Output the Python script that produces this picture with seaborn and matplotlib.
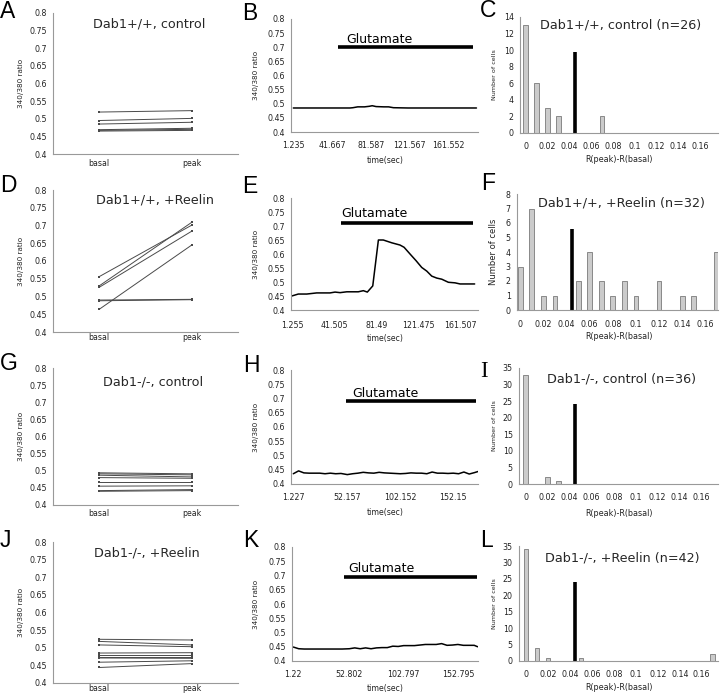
import matplotlib
matplotlib.use('Agg')
import matplotlib.pyplot as plt
from matplotlib.ticker import MultipleLocator
import seaborn as sns
import pandas as pd

sns.set_style('white')
plt.rcParams['font.family'] = ['DejaVu Sans', 'Liberation Sans']

# ---------------- data ----------------
CONDITIONS = ['basal', 'peak']
RATIO_TICKS = [0.4, 0.45, 0.5, 0.55, 0.6, 0.65, 0.7, 0.75, 0.8]

A_basal = [0.519, 0.495, 0.485, 0.469, 0.467, 0.465]
A_peak = [0.523, 0.501, 0.490, 0.473, 0.470, 0.467]
D_basal = [0.556, 0.530, 0.526, 0.490, 0.488, 0.464]
D_peak = [0.701, 0.709, 0.684, 0.492, 0.491, 0.645]
G_basal = [0.494, 0.491, 0.487, 0.480, 0.466, 0.455, 0.442, 0.440]
G_peak = [0.491, 0.488, 0.482, 0.478, 0.466, 0.456, 0.445, 0.442]
J_basal = [0.524, 0.518, 0.508, 0.485, 0.480, 0.475, 0.471, 0.459, 0.444]
J_peak = [0.522, 0.508, 0.503, 0.486, 0.480, 0.475, 0.470, 0.463, 0.455]

B_time = [1.235, 10.0, 20.0, 30.0, 40.0, 50.0, 60.0, 63.0, 68.0, 75.0, 80.0, 83.0,
          87.0, 95.0, 100.0, 105.0, 120.0, 140.0, 160.0, 180.0, 191.0]
B_ratio = [0.485, 0.485, 0.485, 0.485, 0.485, 0.485, 0.485, 0.486, 0.489, 0.489, 0.491, 0.493,
           0.490, 0.489, 0.489, 0.486, 0.485, 0.485, 0.485, 0.485, 0.485]
B_ticks = [1.235, 41.667, 81.587, 121.567, 161.552]

E_time = [0.3, 6.6, 14.7, 24.2, 37.0, 41.8, 46.6, 53.0, 64.0, 68.9, 72.7, 77.9, 83.3, 88.0,
          96.1, 104.0, 107.9, 113.6, 119.4, 124.8, 129.6, 134.4, 139.2, 144.0, 150.3,
          156.7, 161.5, 175.5]
E_ratio = [0.450, 0.457, 0.457, 0.461, 0.461, 0.464, 0.462, 0.465, 0.465, 0.469, 0.464, 0.486,
           0.650, 0.650, 0.640, 0.632, 0.624, 0.600, 0.576, 0.552, 0.539, 0.521, 0.514,
           0.510, 0.499, 0.497, 0.493, 0.493]
E_ticks = [1.255, 41.505, 81.49, 121.475, 161.507]

H_time = [1.227, 6.2, 11.2, 16.2, 21.2, 26.2, 31.2, 36.2, 41.2, 46.2, 52.157, 57.2, 62.2,
          67.2, 72.2, 77.2, 82.2, 87.2, 92.2, 97.2, 102.152, 107.2, 112.2, 117.2, 122.2,
          127.2, 132.2, 137.2, 142.2, 147.2, 152.15, 157.2, 162.2, 167.2, 172.2, 175.7]
H_ratio = [0.436, 0.446, 0.439, 0.438, 0.438, 0.438, 0.436, 0.438, 0.436, 0.437, 0.433, 0.436,
           0.438, 0.441, 0.439, 0.438, 0.441, 0.439, 0.438, 0.437, 0.436, 0.437, 0.439, 0.438,
           0.438, 0.436, 0.442, 0.438, 0.438, 0.437, 0.438, 0.436, 0.442, 0.435, 0.440, 0.444]
H_ticks = [1.227, 52.157, 102.152, 152.15]

K_time = [1.22, 6.2, 11.2, 16.2, 21.2, 26.2, 31.2, 36.2, 41.2, 46.2, 52.802, 57.8, 62.8,
          67.8, 72.8, 77.8, 82.8, 87.8, 92.8, 97.8, 102.797, 107.8, 112.8, 117.8, 122.8,
          127.8, 132.8, 137.8, 142.8, 147.8, 152.795, 157.8, 162.8, 167.8, 171.0]
K_ratio = [0.449, 0.443, 0.442, 0.442, 0.442, 0.442, 0.442, 0.442, 0.442, 0.442, 0.443, 0.446,
           0.443, 0.446, 0.443, 0.446, 0.447, 0.447, 0.452, 0.451, 0.454, 0.454, 0.454, 0.456,
           0.458, 0.458, 0.458, 0.461, 0.455, 0.456, 0.458, 0.455, 0.455, 0.455, 0.450]
K_ticks = [1.22, 52.802, 102.797, 152.795]

# glutamate application bar: start time, end time, ratio level
B_glu = [47.6, 187.4, 0.700]
E_glu = [47.2, 173.9, 0.711]
H_glu = [50.9, 173.6, 0.691]
K_glu = [47.9, 170.7, 0.696]

BINS = [0.0, 0.01, 0.02, 0.03, 0.04, 0.05, 0.06, 0.07, 0.08, 0.09, 0.10, 0.11, 0.12,
        0.13, 0.14, 0.15, 0.16, 0.17]
HIST_TICKS = [0.0, 0.02, 0.04, 0.06, 0.08, 0.10, 0.12, 0.14, 0.16]
HIST_TICKLABELS = ['0', '0.02', '0.04', '0.06', '0.08', '0.1', '0.12', '0.14', '0.16']
C_counts = [13, 6, 3, 2, 0, 0, 0, 2, 0, 0, 0, 0, 0, 0, 0, 0, 0, 0]
F_counts = [3, 7, 1, 1, 0, 2, 4, 2, 1, 2, 1, 0, 2, 0, 1, 1, 0, 4]
I_counts = [33, 0, 2, 1, 0, 0, 0, 0, 0, 0, 0, 0, 0, 0, 0, 0, 0, 0]
L_counts = [34, 4, 1, 0, 0, 1, 0, 0, 0, 0, 0, 0, 0, 0, 0, 0, 0, 2]
THRESHOLD = 0.045
C_thr_height, F_thr_height, I_thr_height, L_thr_height = 9.8, 5.6, 24, 24
C_yticks = [0, 2, 4, 6, 8, 10, 12, 14]
F_yticks = [0, 1, 2, 3, 4, 5, 6, 7, 8]
IL_yticks = [0, 5, 10, 15, 20, 25, 30, 35]

# ---------------- figure ----------------
W, H = 720, 693
fig = plt.figure(figsize=(W / 100, H / 100), dpi=100)

SPINE = '#999999'
TXT = '#222222'


def add_ax(l, t, r, b):
    return fig.add_axes([l / W, 1 - b / H, (r - l) / W, (b - t) / H])


def ftext(x, y, s, **kw):
    fig.text(x / W, 1 - y / H, s, **kw)


def style(ax):
    sns.despine(ax=ax)
    for s in ['left', 'bottom']:
        ax.spines[s].set_color(SPINE)
        ax.spines[s].set_linewidth(0.8)
    ax.tick_params(axis='both', colors=SPINE, labelcolor=TXT, labelsize=5.7, width=0.6)
    ax.tick_params(axis='y', direction='out', length=2, pad=2.5)
    ax.set_xlabel('')
    ax.set_ylabel('')


def paired(box, basal, peak, xpad):
    ax = add_ax(*box)
    n = len(basal)
    df = pd.DataFrame({'cell': list(range(n)) * 2,
                       'pos': [0] * n + [1] * n,
                       'ratio': basal + peak})
    sns.lineplot(data=df, x='pos', y='ratio', units='cell', estimator=None,
                 color='#4a4a4a', lw=0.7, marker='s', markersize=1.6,
                 markeredgewidth=0, ax=ax)
    ax.set_xlim(-0.5, 1.5)
    ax.set_xticks([0, 1])
    ax.set_xticklabels(CONDITIONS)
    ax.set_ylim(0.4, 0.8)
    ax.set_yticks(RATIO_TICKS)
    ax.set_yticklabels([f'{v:g}' for v in RATIO_TICKS])
    style(ax)
    ax.tick_params(axis='x', length=0, pad=xpad)
    return ax


def trace(box, t, v, ticks, xlim, glu, glu_text_xy, xpad):
    ax = add_ax(*box)
    sns.lineplot(x=t, y=v, color='black', lw=1.1, ax=ax)
    ax.plot([glu[0], glu[1]], [glu[2], glu[2]], color='black', lw=2.6,
            solid_capstyle='butt')
    ax.text(glu_text_xy[0], glu_text_xy[1], 'Glutamate', ha='center', va='center',
            fontsize=9, color='black')
    ax.set_xlim(*xlim)
    ax.set_xticks(ticks)
    ax.set_xticklabels([f'{x:g}' for x in ticks])
    ax.xaxis.set_minor_locator(MultipleLocator(5))
    ax.set_ylim(0.4, 0.8)
    ax.set_yticks(RATIO_TICKS)
    ax.set_yticklabels([f'{x:g}' for x in RATIO_TICKS])
    style(ax)
    ax.tick_params(axis='x', which='both', direction='in', length=2.2, pad=xpad)
    return ax


def hist(box, counts, xlim, yticks, thr_h, xpad):
    ax = add_ax(*box)
    df = pd.DataFrame({'bin': BINS, 'n': counts})
    sns.barplot(data=df, x='bin', y='n', native_scale=True, width=0.42,
                color='#cbcbcb', saturation=1, edgecolor='#7a7a7a', linewidth=0.6,
                errorbar=None, ax=ax)
    ax.plot([THRESHOLD, THRESHOLD], [0, thr_h], color='black', lw=2.6,
            solid_capstyle='butt')
    ax.set_xlim(*xlim)
    ax.set_xticks(HIST_TICKS)
    ax.set_xticklabels(HIST_TICKLABELS)
    ax.xaxis.set_minor_locator(MultipleLocator(0.01, offset=0.005))
    ax.set_ylim(0, yticks[-1])
    ax.set_yticks(yticks)
    ax.set_yticklabels([str(y) for y in yticks])
    style(ax)
    ax.tick_params(axis='x', which='major', length=0, pad=xpad)
    ax.tick_params(axis='x', which='minor', direction='in', length=2.2, width=0.6)
    return ax


# column 1: paired basal/peak plots
paired((53, 13, 238, 154), A_basal, A_peak, 3.6)
paired((53, 190, 238, 332), D_basal, D_peak, 0.5)
paired((53, 368, 238, 505), G_basal, G_peak, 2.8)
paired((53, 542, 238, 683), J_basal, J_peak, 0.8)

# column 2: traces
trace((291, 19, 478, 132), B_time, B_ratio, B_ticks, (-1.15, 192.6), B_glu, (90, 0.729), 6.8)
trace((291, 198, 478, 310), E_time, E_ratio, E_ticks, (-0.4, 178.7), E_glu, (79.8, 0.743), 7.6)
trace((291, 370, 478, 484), H_time, H_ratio, H_ticks, (-0.95, 175.5), H_glu, (88.2, 0.716), 6.2)
trace((292, 547, 478, 661), K_time, K_ratio, K_ticks, (0.02, 171.3), K_glu, (82.6, 0.726), 6.4)

# column 3: histograms
hist((520, 17, 718, 133), C_counts, (-0.0052, 0.1764), C_yticks, C_thr_height, 6.2)
hist((517, 194, 718, 310), F_counts, (-0.0029, 0.171), F_yticks, F_thr_height, 7.0)
hist((519, 368, 718, 484), I_counts, (-0.0061, 0.1748), IL_yticks, I_thr_height, 6.2)
hist((519, 546, 718, 661), L_counts, (-0.0064, 0.1748), IL_yticks, L_thr_height, 6.4)

# titles
TITLE_FS = 9.2
ftext(149, 24, 'Dab1+/+, control', ha='center', va='center', fontsize=TITLE_FS)
ftext(155, 200, 'Dab1+/+, +Reelin', ha='center', va='center', fontsize=TITLE_FS)
ftext(153, 382, 'Dab1-/-, control', ha='center', va='center', fontsize=TITLE_FS)
ftext(147, 553, 'Dab1-/-, +Reelin', ha='center', va='center', fontsize=TITLE_FS)
ftext(621, 25, 'Dab1+/+, control (n=26)', ha='center', va='center', fontsize=TITLE_FS)
ftext(621, 203, 'Dab1+/+, +Reelin (n=32)', ha='center', va='center', fontsize=TITLE_FS)
ftext(621.5, 379, 'Dab1-/-, control (n=36)', ha='center', va='center', fontsize=TITLE_FS)
ftext(622.5, 558, 'Dab1-/-, +Reelin (n=42)', ha='center', va='center', fontsize=TITLE_FS)

# axis labels
for y in [83.5, 261, 436.5, 612.5]:
    ftext(20.5, y, '340/380 ratio', rotation=90, ha='center', va='center', fontsize=5.2, color=TXT)
for y in [75.5, 254, 427, 604]:
    ftext(256.3, y, '340/380 ratio', rotation=90, ha='center', va='center', fontsize=5.2, color=TXT)
for y, fs in [(75, 4.6), (252, 6.0), (426, 4.6), (603.5, 4.6)]:
    ftext(494, y, 'Number of cells', rotation=90, ha='center', va='center', fontsize=fs, color=TXT)
for y in [160, 338, 512, 688]:
    ftext(385, y, 'time(sec)', ha='center', va='center', fontsize=5.6, color=TXT)
for y in [159.3, 336.7, 514, 688]:
    ftext(619, y, 'R(peak)-R(basal)', ha='center', va='center', fontsize=5.8, color=TXT)

# panel letters
LET_FS = 16.5
for letter, x, y in [('A', 0, 18), ('B', 242, 20), ('C', 480, 17),
                     ('D', 0, 192), ('E', 242, 193), ('F', 481, 190),
                     ('G', 0, 370), ('H', 243, 372),
                     ('J', 0, 547), ('K', 243, 547), ('L', 480, 547)]:
    ftext(x, y, letter, ha='left', va='baseline', fontsize=LET_FS,
          family='Liberation Sans', color='black')
ftext(480, 377, 'I', ha='left', va='baseline', fontsize=LET_FS,
      family='Liberation Serif', color='black')

fig.savefig('out.png', dpi=100)
